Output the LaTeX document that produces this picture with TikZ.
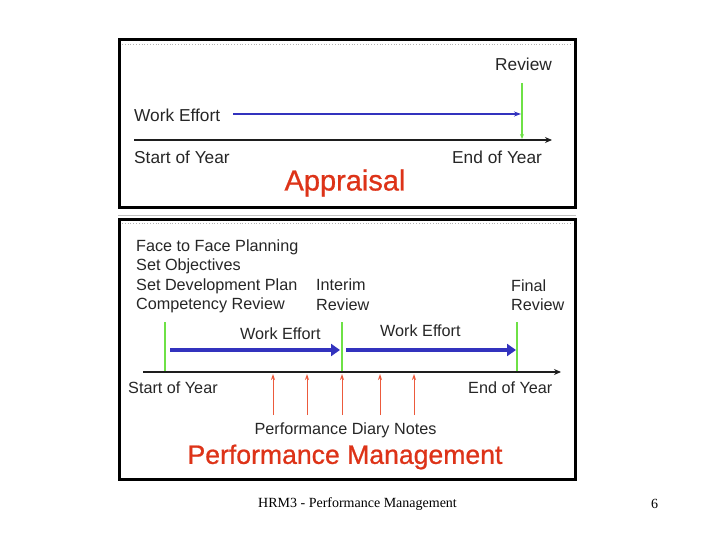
\documentclass[tikz,border=0pt]{standalone}
\usepackage{fontspec}
\setmainfont{Liberation Sans}
\newfontfamily\footfont{Liberation Serif}
\newfontfamily\titlefont[FakeBold=0.8]{Liberation Sans}
\usetikzlibrary{arrows.meta}
\definecolor{tred}{RGB}{221,51,24}
\definecolor{ared}{RGB}{236,90,60}
\definecolor{tgreen}{RGB}{110,225,70}
\definecolor{tblue}{RGB}{50,50,190}
\definecolor{taxis}{RGB}{30,30,30}
\tikzset{
  frame/.style={draw=black, line width=3pt},
  innerdots/.style={draw=gray!60, line width=0.8pt, dotted},
  lbl/.style={anchor=west, inner sep=0pt, font=\fontsize{17.3}{19}\selectfont, text=black!85},
  lblb/.style={anchor=west, inner sep=0pt, font=\fontsize{16.2}{18}\selectfont, text=black!85},
  title/.style={inner sep=0pt, text=tred},
  axis/.style={draw=taxis, line width=2.2pt, -{Stealth[length=7pt,width=6pt]}},
  thinblue/.style={draw=tblue, line width=1.2pt, -{Stealth[length=7pt,width=5pt]}},
  thickblue/.style={draw=tblue, line width=4pt, -{Triangle[length=9pt,width=12pt]}},
  gline/.style={draw=tgreen, line width=1.3pt},
  redarrow/.style={draw=ared, line width=1pt, -{Stealth[length=6pt,width=4pt]}},
}
\begin{document}
\begin{tikzpicture}[x=1pt,y=-1pt]
\useasboundingbox (0,0) rectangle (720,540);
% frames
\draw[innerdots] (122,44) -- (572,44);
\draw[frame] (119.5,40) rectangle (575,207.5);
\draw[draw=gray!50, line width=1pt] (118,215.5) -- (576,215.5);
\draw[innerdots] (122,223.5) -- (572,223.5);
\draw[frame] (119.5,219.5) rectangle (575,479);

% ---- Appraisal box ----
\node[lbl] (review) at (495,64) {Review};
\node[lbl] (we1) at (134,115) {Work Effort};
\node[lbl] (soy1) at (134,157) {Start of Year};
\node[lbl] (eoy1) at (452,157) {End of Year};
\node[title, font=\titlefont\fontsize{29}{32}\selectfont] (appr) at (345,183) {Appraisal};
\coordinate (a1s) at (134,140);
\coordinate (a1e) at (552,140);
\draw[axis] (a1s) -- (a1e);
\coordinate (b1s) at (233,114);
\coordinate (b1e) at (521,114);
\draw[thinblue] (b1s) -- (b1e);
\coordinate (g1s) at (522,83);
\coordinate (g1e) at (522,139);
\draw[gline, -{Stealth[length=5pt,width=4pt]}] (g1s) -- (g1e);

% ---- Performance Management box ----
\node[lblb] (f2f) at (136,247) {Face to Face Planning};
\node[lblb] (setobj) at (136,266.5) {Set Objectives};
\node[lblb] (setdev) at (136,286) {Set Development Plan};
\node[lblb] (comp) at (136,305) {Competency Review};
\node[lblb] (interim) at (316,285) {Interim};
\node[lblb] (interimr) at (316,305) {Review};
\node[lblb] (final) at (511,286) {Final};
\node[lblb] (finalr) at (511,305) {Review};
\node[lblb] (we2) at (240,334) {Work Effort};
\node[lblb] (we3) at (380,331) {Work Effort};
\node[lblb] (soy2) at (128,388) {Start of Year};
\node[lblb] (eoy2) at (468,388) {End of Year};
\node[lblb, anchor=center] (pdn) at (345.5,430) {Performance Diary Notes};
\node[title, font=\titlefont\fontsize{26.6}{29}\selectfont] (pm) at (345,457) {Performance Management};

% green markers
\coordinate (g2a) at (165,322); \coordinate (g2b) at (165,372);
\coordinate (g3a) at (342,322); \coordinate (g3b) at (342,372);
\coordinate (g4a) at (517,322); \coordinate (g4b) at (517,372);
\draw[gline] (g2a) -- (g2b);
\draw[gline] (g3a) -- (g3b);
\draw[gline] (g4a) -- (g4b);
% axis
\coordinate (a2s) at (143,372);
\coordinate (a2e) at (561,372);
\draw[axis] (a2s) -- (a2e);
% thick blue arrows
\coordinate (b2s) at (170,350); \coordinate (b2e) at (340,350);
\coordinate (b3s) at (346,350); \coordinate (b3e) at (516,350);
\draw[thickblue] (b2s) -- (b2e);
\draw[thickblue] (b3s) -- (b3e);
% red diary arrows
\foreach \x/\n in {273/r1,307/r2,342/r3,380/r4,414/r5}{
  \coordinate (\n s) at (\x,415);
  \coordinate (\n e) at (\x,374);
  \draw[redarrow] (\n s) -- (\n e);
}

% footer
\node[anchor=west, inner sep=0pt, font=\footfont\fontsize{14}{16}\selectfont] (foot) at (258,504) {HRM3 - Performance Management};
\node[anchor=west, inner sep=0pt, font=\footfont\fontsize{14}{16}\selectfont] (pg) at (651,504) {6};
\end{tikzpicture}
\end{document}
